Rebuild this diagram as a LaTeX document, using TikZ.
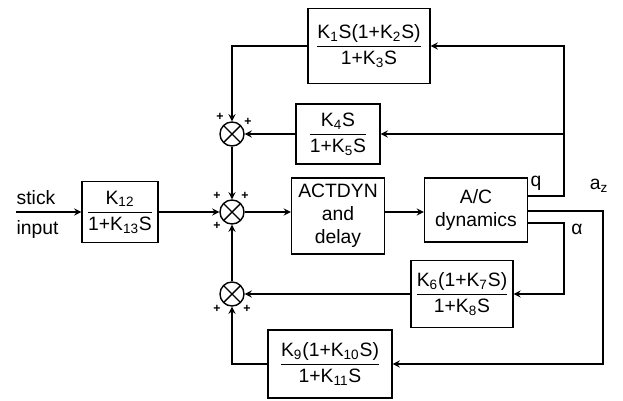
\documentclass[tikz,border=0pt]{standalone}
\usepackage{fontspec}
\usepackage{amsmath}
\setmainfont{Liberation Sans}
\usetikzlibrary{calc}
\newcommand{\gfrac}[2]{$\dfrac{\text{#1}}{\text{#2}}$}
\newcommand{\lo}[1]{\textsubscript{#1}}
\tikzset{
  blk/.style={draw, align=center, inner sep=2pt},
  sumjn/.style={draw, circle, minimum size=0.48cm, inner sep=0pt,
    path picture={\draw (path picture bounding box.north west) -- (path picture bounding box.south east)
      (path picture bounding box.north east) -- (path picture bounding box.south west);}},
  pl/.style={font=\scriptsize\bfseries, inner sep=0pt},
  lbl/.style={inner sep=0pt}
}
\begin{document}
\begin{tikzpicture}[>=stealth, x=0.02cm, y=-0.02cm, line width=0.8pt, font=\fontsize{11}{13}\selectfont]
\useasboundingbox (0,0) rectangle (623,400);
% blocks
\node[blk, minimum width=2.44cm, minimum height=1.5cm] (fb1) at (369,46) {\gfrac{K\lo{1}S(1+K\lo{2}S)}{1+K\lo{3}S}};
\node[blk, minimum width=1.68cm, minimum height=1.2cm] (fb2) at (338,134) {\gfrac{K\lo{4}S}{1+K\lo{5}S}};
\node[blk, minimum width=1.52cm, minimum height=1.22cm] (pf) at (120,212) {\gfrac{K\lo{12}}{1+K\lo{13}S}};
\node[blk, minimum width=1.86cm, minimum height=1.52cm] (act) at (338,216) {ACTDYN\\and\\delay};
\node[blk, minimum width=2.06cm, minimum height=1.28cm] (ac) at (476,210) {A/C\\dynamics};
\node[blk, minimum width=1.9cm, minimum height=1.34cm] (fb3) at (462,294) {\gfrac{K\lo{6}(1+K\lo{7}S)}{1+K\lo{8}S}};
\node[blk, minimum width=2.48cm, minimum height=1.36cm] (fb4) at (330,364) {\gfrac{K\lo{9}(1+K\lo{10}S)}{1+K\lo{11}S}};
% summing junctions
\node[sumjn] (s1) at (232,134) {};
\node[sumjn] (s2) at (232,212) {};
\node[sumjn] (s3) at (232,294) {};
\node[pl] (p1) at (220,117) {+};
\node[pl] (p2) at (248,122) {+};
\node[pl] (p3) at (217,196) {+};
\node[pl] (p4) at (245,196) {+};
\node[pl] (p5) at (217,226) {+};
\node[pl] (p6) at (217,309) {+};
\node[pl] (p7) at (247,309) {+};
% labels
\node[lbl, anchor=west] (stk) at (16,198) {stick};
\node[lbl, anchor=west] (inp) at (16,229) {input};
\node[lbl] (ql) at (536,183) {q};
\node[lbl] (azl) at (599,186) {a\lo{z}};
\node[lbl] (all) at (577,229) {α};
% outputs of A/C
\coordinate (in) at (16,212);
\coordinate (qo) at ($(ac.east)+(0,-14)$);
\coordinate (ao) at ($(ac.east)+(0,1)$);
\coordinate (al) at ($(ac.east)+(0,13)$);
% forward path
\draw[->] (in) -- (pf.west);
\draw[->] (pf.east) -- (s2.west);
\draw[->] (s2.east) -- (s2 -| act.west);
\draw[->] (act.east |- s2) -- (ac.west |- s2);
% feedback
\draw[->] (qo) -- (564,196) |- (fb1.east);
\draw[->] (564,134) -- (fb2.east);
\draw[->] (ao) -- (603,211) |- (fb4.east);
\draw[->] (al) -- (564,223) |- (fb3.east);
\draw[->] (fb1.west) -| (s1.north);
\draw[->] (fb2.west) -- (s1.east);
\draw[->] (s1.south) -- (s2.north);
\draw[->] (fb3.west) -- (s3.east);
\draw[->] (fb4.west) -| (s3.south);
\draw[->] (s3.north) -- (s2.south);
\end{tikzpicture}
\end{document}
